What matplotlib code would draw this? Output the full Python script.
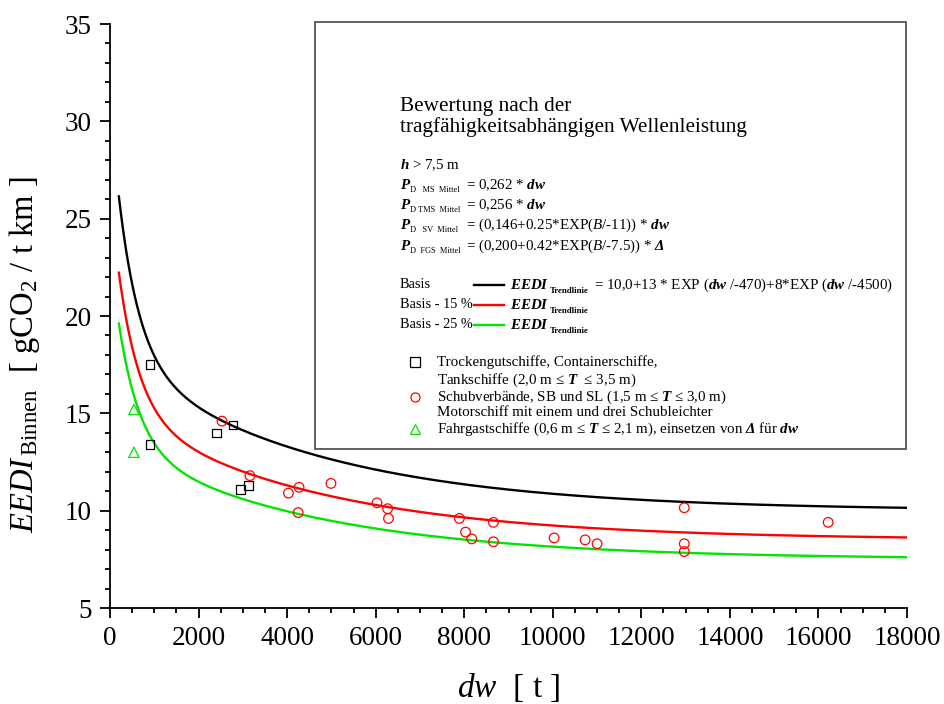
import numpy as np
import matplotlib
matplotlib.use("Agg")
import matplotlib.pyplot as plt
from matplotlib.lines import Line2D
from matplotlib.patches import Rectangle

plt.rcParams["font.family"] = ["Liberation Serif", "DejaVu Serif"]
plt.rcParams["mathtext.fontset"] = "custom"
plt.rcParams["mathtext.rm"] = "Liberation Serif"
plt.rcParams["mathtext.it"] = "Liberation Serif:italic"
plt.rcParams["mathtext.bf"] = "Liberation Serif:bold"
plt.rcParams["mathtext.bfit"] = "Liberation Serif:italic:bold"

# trend line: EEDI = 10,0 + 13*exp(dw/-470) + 8*exp(dw/-4500)
trend_a = 10.0
trend_b = 13.0
trend_c = 8.0
trend_t1 = 470.0
trend_t2 = 4500.0
reductions = [0.0, 0.15, 0.25]
curve_colors = ["black", "#ff0000", "#00e600"]
dw_start = 200
dw_end = 18000

# Trockengutschiffe, Containerschiffe, Tankschiffe
dry_dw = [900, 900, 2400, 2780, 2950, 3130]
dry_eedi = [17.5, 13.4, 14.0, 14.4, 11.1, 11.3]

# Schubverbaende
push_dw = [2530, 3160, 4270, 4030, 4250, 4990, 6030, 6270, 6290,
           7890, 8030, 8170, 8660, 8660, 10030, 10730, 11000,
           12970, 12970, 12970, 16220]
push_eedi = [14.6, 11.8, 11.2, 10.9, 9.9, 11.4, 10.4, 10.1, 9.6,
             9.6, 8.9, 8.55, 9.4, 8.4, 8.6, 8.5, 8.3,
             10.15, 8.3, 7.9, 9.4]

# Fahrgastschiffe
pass_dw = [540, 540]
pass_eedi = [15.2, 13.0]

W, H = 944, 704
fig = plt.figure(figsize=(W / 100, H / 100), dpi=100)
ax = fig.add_axes([110 / W, 1 - 608 / H, (907 - 110) / W, (608 - 24) / H])

dw = np.linspace(dw_start, dw_end, 800)
base = trend_a + trend_b * np.exp(-dw / trend_t1) + trend_c * np.exp(-dw / trend_t2)
for r, c in zip(reductions, curve_colors):
    ax.plot(dw, base * (1 - r), color=c, lw=1.7, zorder=3)

ax.scatter(dry_dw, dry_eedi, marker="s", s=38, facecolors="none", edgecolors="black", linewidths=0.9, zorder=4)
ax.scatter(push_dw, push_eedi, marker="o", s=48, facecolors="none", edgecolors="#ff0000", linewidths=0.9, zorder=4)
ax.scatter(pass_dw, pass_eedi, marker="^", s=55, facecolors="none", edgecolors="#00e600", linewidths=0.9, zorder=4)

ax.set_xlim(0, 18000)
ax.set_ylim(5, 35)
ax.set_xticks(np.arange(0, 18001, 2000))
ax.set_xticks(np.arange(0, 18001, 500), minor=True)
ax.set_yticks(np.arange(5, 36, 5))
ax.set_yticks(np.arange(5, 36, 1), minor=True)
ax.tick_params(which="major", direction="out", length=7, width=1.3, labelsize=19.5, pad=6)
ax.tick_params(which="minor", direction="out", length=3.6, width=1.3)
ax.spines["top"].set_visible(False)
ax.spines["right"].set_visible(False)
for s in ["left", "bottom"]:
    ax.spines[s].set_linewidth(1.3)

def ftext(x, y, s, **kw):
    fig.text(x / W, 1 - y / H, s, va="center", **kw)

ftext(509, 688, r"$dw$  [ t ]", ha="center", fontsize=24)
fig.text(25 / W, 1 - 355 / H, r"$EEDI_{\,\mathrm{Binnen}}$  [ gCO$_2$ / t km ]",
         rotation=90, ha="center", va="center", fontsize=23.5)

# legend box
fig.patches.append(Rectangle((315 / W, 1 - 449 / H), (906 - 315) / W, (449 - 22) / H,
                             transform=fig.transFigure, facecolor="white",
                             edgecolor="#555555", lw=1.3, zorder=5))

tz = dict(zorder=6)
ftext(400, 106, "Bewertung nach der", fontsize=15.3, **tz)
ftext(400, 127, "tragfähigkeitsabhängigen Wellenleistung", fontsize=15.3, **tz)

fs = 10.8
sub = 6.0
ftext(400, 165, r"$\mathbfit{h}$ > 7,5 m", fontsize=fs, **tz)

p_rows = [
    (185, "D   MS  Mittel", r"= 0,262 * $\mathbfit{dw}$"),
    (205, "D TMS  Mittel", r"= 0,256 * $\mathbfit{dw}$"),
    (225, "D   SV  Mittel", r"= (0,146+0.25*EXP($B$/-11)) * $\mathbfit{dw}$"),
    (246, "D  FGS  Mittel", r"= (0,200+0.42*EXP($B$/-7.5)) * $\mathbfit{\Delta}$"),
]
for y, s_sub, rhs in p_rows:
    ftext(400, y, r"$\mathbfit{P}$", fontsize=fs, **tz)
    ftext(410, y + 5, s_sub, fontsize=sub, **tz)
    ftext(466, y, rhs, fontsize=fs, **tz)

labels_basis = ["Basis", "Basis - 15 %", "Basis - 25 %"]
for i, (lab, c) in enumerate(zip(labels_basis, curve_colors)):
    y = 285 + 20 * i
    ftext(400, y, lab, fontsize=10.3, **tz)
    fig.add_artist(Line2D([474 / W, 504 / W], [1 - y / H, 1 - y / H], color=c, lw=1.7,
                          transform=fig.transFigure, zorder=6))
    ftext(510, y, r"$\mathbfit{EEDI}$", fontsize=fs, **tz)
    ftext(550, y + 6, "Trendlinie", fontsize=6.3, fontweight="bold", **tz)
ftext(594, 285, r"= 10,0+13 * EXP ($\mathbfit{dw}$ /-470)+8*EXP ($\mathbfit{dw}$ /-4500)", fontsize=fs, **tz)

marker_specs = [("s", "black", 362), ("o", "#ff0000", 397), ("^", "#00e600", 429)]
for m, c, y in marker_specs:
    fig.add_artist(Line2D([415 / W], [1 - y / H], marker=m, markersize=6.5, markerfacecolor="none",
                          markeredgecolor=c, markeredgewidth=0.9, linestyle="none",
                          transform=fig.transFigure, zorder=6))
ftext(437, 362, "Trockengutschiffe, Containerschiffe,", fontsize=fs, **tz)
ftext(437, 380, r"Tankschiffe (2,0 m ≤ $\mathbfit{T}$  ≤ 3,5 m)", fontsize=fs, **tz)
ftext(437, 397, r"Schubverbände, SB und SL (1,5 m ≤ $\mathbfit{T}$ ≤ 3,0 m)", fontsize=fs, **tz)
ftext(437, 413, "Motorschiff mit einem und drei Schubleichter", fontsize=fs, **tz)
ftext(437, 429, r"Fahrgastschiffe (0,6 m ≤ $\mathbfit{T}$ ≤ 2,1 m), einsetzen von $\mathbfit{\Delta}$ für $\mathbfit{dw}$", fontsize=fs, **tz)

fig.savefig("out.png", dpi=100)
